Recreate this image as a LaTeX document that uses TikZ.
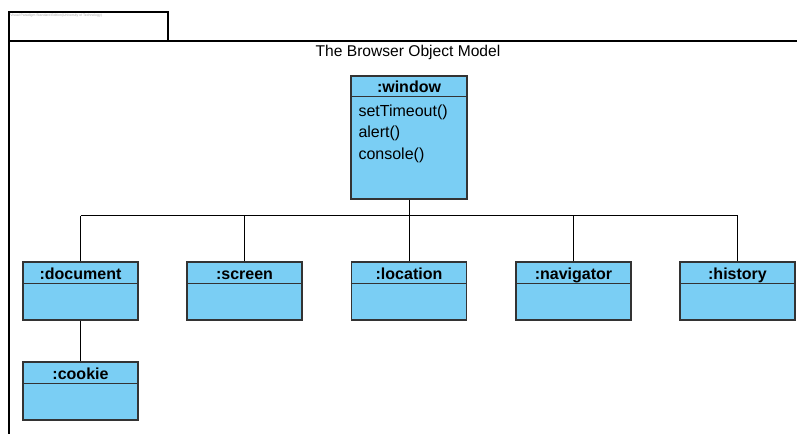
\documentclass[tikz,border=0pt]{standalone}
\usepackage{fontspec}
\setmainfont{Liberation Sans}
\usepackage{tikz}
\usetikzlibrary{positioning, calc}

\definecolor{objblue}{HTML}{7ACEF4}
\definecolor{objline}{HTML}{333333}

\tikzset{
    objbox/.style={draw=objline, line width=1.1pt, fill=objblue, minimum width=86.5pt, minimum height=43.5pt, inner sep=0pt},
    topbox/.style={objbox, minimum width=87pt, minimum height=92.25pt},
    hdr/.style={font=\fontsize{12}{14}\selectfont\bfseries, inner sep=0pt, anchor=base},
    link/.style={draw=black, line width=0.75pt},
    frameline/.style={draw=black, line width=1.1pt}
}

\begin{document}
\begin{tikzpicture}[x=0.75pt, y=-0.75pt]
            \useasboundingbox (0,0) rectangle (797,434);

            % Frame
            \draw[frameline] (9,434) -- (9,12) -- (168,12) -- (168,41);
            \draw[frameline] (9,41) -- (797,41);
            \node[anchor=north west, inner sep=0pt, text=gray!70, font=\fontsize{2.6}{3}\selectfont] (tag) at (10,13.5) {Visual Paradigm Standard Edition(University of Technology)};
            \node[font=\fontsize{11.7}{13}\selectfont, anchor=base] (title) at (408,57) {The Browser Object Model};

            % Window object
            \node[topbox] (win) at (409,137.5) {};
            \draw[objline, line width=1.1pt] ([yshift=-15.75pt]win.north west) -- ([yshift=-15.75pt]win.north east);
            \node[hdr] (winlbl) at ([yshift=-13.25pt]win.north) {:window};
            \node[anchor=north west, align=left, inner sep=0pt, font=\fontsize{12}{16.2}\selectfont] (ops) at ([xshift=6pt, yshift=-21.75pt]win.north west) {setTimeout()\\alert()\\console()};

            % Child objects
            \node[objbox] (doc) at (80.5,291) {};
            \node[objbox] (scr) at (244.5,291) {};
            \node[objbox] (loc) at (409,291) {};
            \node[objbox] (nav) at (573.5,291) {};
            \node[objbox] (hist) at (737.5,291) {};
            \node[objbox] (cook) at (80.5,391) {};

            % Headers
            \foreach \n/\t in {doc/:document, scr/:screen, loc/:location, nav/:navigator, hist/:history, cook/:cookie} {
                \draw[objline, line width=1.1pt] ([yshift=-16.5pt]\n.north west) -- ([yshift=-16.5pt]\n.north east);
                \node[hdr] at ([yshift=-13.75pt]\n.north) {\t};
            }

            % Connectors
            \coordinate (bus) at (409,216);
            \draw[link] (win.south) -- (bus);
            \draw[link] (doc.north |- bus) -- (hist.north |- bus);
            \foreach \n in {doc, scr, loc, nav, hist} {
                \draw[link] (\n.north) -- (\n.north |- bus);
            }
            \draw[link] (doc.south) -- (cook.north);
        \end{tikzpicture}
\end{document}
